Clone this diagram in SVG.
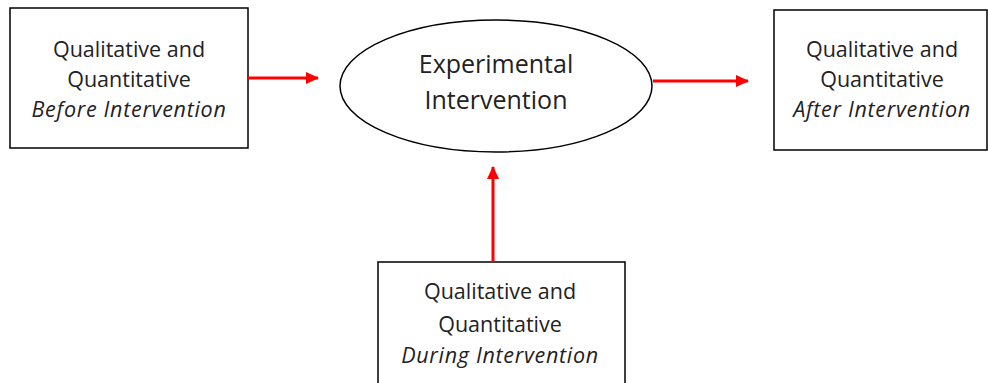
<svg xmlns="http://www.w3.org/2000/svg" width="988" height="383" viewBox="0 0 988 383">
<defs>
<style>
.box{fill:#fff;stroke:#000;stroke-width:1.5}
.t{font-family:"Open Sans","Noto Sans",sans-serif;font-size:21.5px;fill:#222;text-anchor:middle}
.e{font-size:25px}
.i{font-style:italic;letter-spacing:0.7px}
.c{stroke:#f00;stroke-width:3;fill:none}
</style>
<marker id="ah" markerWidth="13" markerHeight="12" refX="12" refY="6" orient="auto" markerUnits="userSpaceOnUse" viewBox="0 0 13 12">
<path d="M0,0 L13,6 L0,12 Z" fill="#f00"/>
</marker>
</defs>
<rect width="988" height="383" fill="#fff"/>
<g id="before">
<rect class="box" x="10" y="8" width="238" height="140"/>
<text class="t" x="129" y="57">Qualitative and</text>
<text class="t" x="129" y="87">Quantitative</text>
<text class="t i" x="129" y="117">Before Intervention</text>
</g>
<g id="experimental">
<ellipse class="box" cx="496" cy="86" rx="156" ry="66"/>
<text class="t e" x="496" y="73">Experimental</text>
<text class="t e" x="496" y="109">Intervention</text>
</g>
<g id="after">
<rect class="box" x="774" y="10" width="213" height="140"/>
<text class="t" x="882" y="57">Qualitative and</text>
<text class="t" x="882" y="87">Quantitative</text>
<text class="t i" x="882" y="117">After Intervention</text>
</g>
<g id="during">
<rect class="box" x="378" y="262" width="247" height="125"/>
<text class="t" x="500" y="299">Qualitative and</text>
<text class="t" x="500" y="332">Quantitative</text>
<text class="t i" x="500" y="363">During Intervention</text>
</g>
<g id="connectors">
<line class="c" x1="248" y1="78" x2="318" y2="78" marker-end="url(#ah)"/>
<line class="c" x1="653" y1="81" x2="748" y2="81" marker-end="url(#ah)"/>
<line class="c" x1="493" y1="262" x2="493" y2="167" marker-end="url(#ah)"/>
</g>
</svg>
